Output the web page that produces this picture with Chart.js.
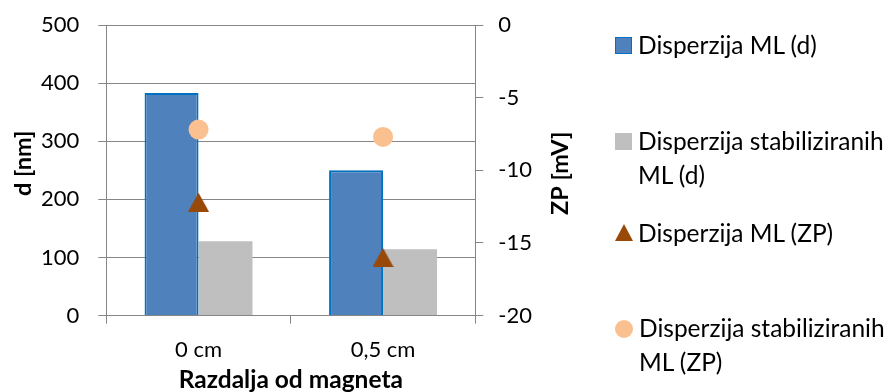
<!DOCTYPE html>
<html>
<head>
<meta charset="utf-8">
<script src="https://cdn.jsdelivr.net/npm/chart.js@4.4.0/dist/chart.umd.min.js"></script>
<style>
  html, body { margin: 0; padding: 0; background: #fff; }
  #wrap { position: relative; width: 888px; height: 392px; }
  #chart { position: absolute; left: 0; top: 0; }
  #legend { position: absolute; left: 615px; top: 0; font-family: Lato, sans-serif; font-size: 24.5px; color: #000; }
  .item { position: absolute; left: 0; display: flex; align-items: flex-start; white-space: nowrap; line-height: 34px; }
  .sw { width: 17px; height: 17px; margin: 9px 6px 0 0; flex: none; box-sizing: border-box; }
</style>
</head>
<body>
<div id="wrap">
  <canvas id="chart" width="888" height="392"></canvas>
  <div id="legend"></div>
</div>
<script>
// --- DATA ---
const categories = ['0 cm', '0,5 cm'];
const dML = [383, 250];          // Disperzija ML (d) [nm]
const dStab = [128, 114];        // Disperzija stabiliziranih ML (d) [nm]
const zpML = [-12.2, -16.0];     // Disperzija ML (ZP) [mV]
const zpStab = [-7.2, -7.7];     // Disperzija stabiliziranih ML (ZP) [mV]
const seriesNames = ['Disperzija ML (d)', 'Disperzija stabiliziranih ML (d)', 'Disperzija ML (ZP)', 'Disperzija stabiliziranih ML (ZP)'];
const axisTitles = { x: 'Razdalja od magneta', y: 'd [nm]', y2: 'ZP [mV]' };

const FONT = 'Lato';
const GRID = '#868686';

// triangle marker centred on its bounding box (like Excel)
function triangleMarker(w, h, color) {
    const c = document.createElement('canvas');
    c.width = w; c.height = h;
    const g = c.getContext('2d');
    g.fillStyle = color;
    g.beginPath();
    g.moveTo(w / 2, 0);
    g.lineTo(w, h);
    g.lineTo(0, h);
    g.closePath();
    g.fill();
    return c;
}
const tri = triangleMarker(21, 19, '#984807');

// axis titles, both vertical ones read bottom-to-top
const axisTitlePlugin = {
    id: 'axisTitles',
    afterDraw(chart) {
        const a = chart.chartArea;
        const c = chart.ctx;
        const midY = (a.top + a.bottom) / 2;
        c.save();
        c.fillStyle = '#000';
        c.textAlign = 'center';
        c.textBaseline = 'middle';
        c.font = 'bold 24.5px ' + FONT;
        c.fillText(axisTitles.x, (a.left + a.right) / 2, 380);

        c.font = 'bold 23.5px ' + FONT;
        c.save();
        c.translate(23, midY - 7);
        c.rotate(-Math.PI / 2);
        c.fillText(axisTitles.y, 0, 0);
        c.restore();

        c.save();
        c.translate(a.right + 85, midY + 3);
        c.rotate(-Math.PI / 2);
        c.fillText(axisTitles.y2, 0, 0);
        c.restore();
        c.restore();
    }
};

// the tick padding would otherwise also push the plot top down
function trimPadding(scale) {
    scale.paddingTop = 12;
    scale.paddingBottom = 12;
}

const ctx = document.getElementById('chart').getContext('2d');
new Chart(ctx, {
    data: {
        labels: categories,
        datasets: [
            {
                type: 'scatter', label: seriesNames[3], data: zpStab, yAxisID: 'y2', order: 0,
                pointStyle: 'circle', pointRadius: 10, pointHoverRadius: 10,
                backgroundColor: '#FAC090', borderColor: '#FAC090', borderWidth: 0, showLine: false
            },
            {
                type: 'scatter', label: seriesNames[2], data: zpML, yAxisID: 'y2', order: 0,
                pointStyle: tri, backgroundColor: '#984807', borderColor: '#984807', showLine: false
            },
            {
                type: 'bar', label: seriesNames[0], data: dML, yAxisID: 'y', order: 1,
                backgroundColor: '#4F81BD', borderColor: '#0070C0', borderWidth: 2,
                categoryPercentage: 0.585, barPercentage: 1
            },
            {
                type: 'bar', label: seriesNames[1], data: dStab, yAxisID: 'y', order: 1,
                backgroundColor: '#BFBFBF', borderWidth: 0,
                categoryPercentage: 0.585, barPercentage: 1
            }
        ]
    },
    options: {
        responsive: false,
        animation: false,
        layout: { padding: { left: 22, right: 341, top: 25, bottom: 16 } },
        plugins: { legend: { display: false }, tooltip: { enabled: false } },
        scales: {
            x: {
                type: 'category',
                offset: true,
                grid: { offset: true, drawOnChartArea: false, drawTicks: true, tickLength: 8, color: GRID },
                border: { display: true, color: GRID },
                ticks: { color: '#000', font: { family: FONT, size: 22 }, padding: 13 }
            },
            y: {
                position: 'left', min: 0, max: 500,
                afterFit: trimPadding,
                grid: { color: GRID, tickLength: 8 },
                border: { display: true, color: GRID },
                ticks: { stepSize: 100, color: '#000', font: { family: FONT, size: 22 }, padding: 19 }
            },
            y2: {
                position: 'right', min: -20, max: 0,
                afterFit: trimPadding,
                grid: { drawOnChartArea: false, color: GRID, tickLength: 8 },
                border: { display: true, color: GRID },
                ticks: { stepSize: 5, color: '#000', font: { family: FONT, size: 22 }, padding: 15 }
            }
        }
    },
    plugins: [axisTitlePlugin]
});

// --- LEGEND (html) ---
const legendItems = [
    { text: seriesNames[0], top: 28, sw: 'background:#4F81BD;border:1.5px solid #0070C0' },
    { text: 'Disperzija stabiliziranih<br>ML (d)', top: 124, sw: 'background:#BFBFBF' },
    { text: seriesNames[2], top: 216, sw: 'tri' },
    { text: 'Disperzija stabiliziranih<br>ML (ZP)', top: 311, sw: 'background:#FAC090;border-radius:50%;width:18px;height:18px' }
];
const legend = document.getElementById('legend');
legendItems.forEach(it => {
    const d = document.createElement('div');
    d.className = 'item';
    d.style.top = it.top + 'px';
    const s = document.createElement('div');
    s.className = 'sw';
    if (it.sw === 'tri') {
        s.style.cssText = 'width:0;height:0;border-left:9px solid transparent;border-right:9px solid transparent;border-bottom:17px solid #984807;margin:8px 5px 0 0';
    } else {
        s.style.cssText = it.sw;
    }
    const t = document.createElement('span');
    t.innerHTML = it.text;
    d.appendChild(s);
    d.appendChild(t);
    legend.appendChild(d);
});
</script>
</body>
</html>
